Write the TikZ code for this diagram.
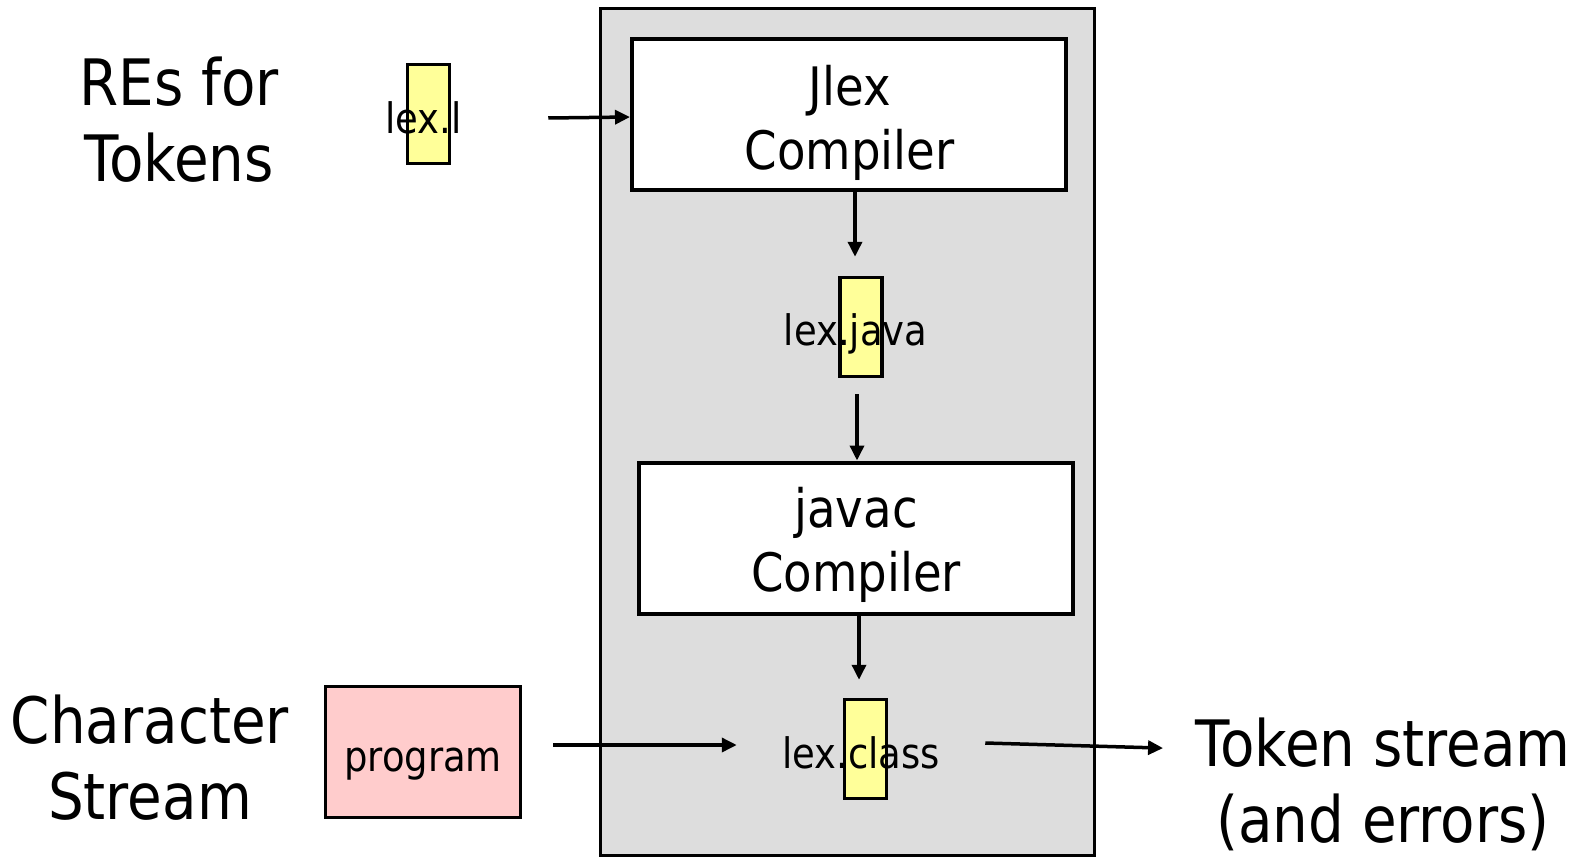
\documentclass[tikz,border=0pt]{standalone}
\usepackage{fontspec}
\setmainfont{DejaVu Sans}[FakeStretch=0.88]
\usetikzlibrary{arrows.meta}
\definecolor{panelgray}{HTML}{DDDDDD}
\definecolor{fileyellow}{HTML}{FFFF99}
\definecolor{progpink}{HTML}{FFCCCC}
\begin{document}
\begin{tikzpicture}[x=1pt,y=-1pt,
  bigtext/.style={font=\fontsize{64}{76}\selectfont, align=center, inner sep=0pt, anchor=base},
  boxtext/.style={font=\fontsize{53}{64}\selectfont, align=center, inner sep=0pt, anchor=base},
  filetext/.style={font=\fontsize{42}{50}\selectfont, inner sep=0pt, anchor=base},
  procbox/.style={draw, line width=4pt, fill=white, minimum width=434pt, minimum height=151pt, inner sep=0pt},
  filebox/.style={draw, line width=3.5pt, fill=fileyellow, minimum width=42pt, minimum height=99pt, inner sep=0pt},
  arr/.style={line width=3.5pt, -{Triangle[length=15pt,width=14pt]}}]
\useasboundingbox (0,0) rectangle (1586,856);
% panel
\node[draw, line width=3pt, fill=panelgray, minimum width=494pt, minimum height=847pt, inner sep=0pt] (panel) at (847.5,432) {};
% process boxes
\node[procbox] (jlex) at (849,114.5) {};
\node[boxtext] (jlexlabel) at (849.5,169) {Jlex\\Compiler};
\node[procbox] (javac) at (855.5,538) {};
\node[boxtext] (javaclabel) at (856,591) {javac\\Compiler};
% file boxes
\node[filebox] (lexlbox) at (428.5,114) {};
\node[filetext] (lexl) at (423.5,133) {lex.l};
\node[filebox] (lexjavabox) at (861,327) {};
\node[filetext] (lexjava) at (855.5,345) {lex.java};
\node[filebox] (lexclassbox) at (865.5,749) {};
\node[filetext] (lexclass) at (861,768) {lex.class};
% program
\node[draw, line width=3.5pt, fill=progpink, minimum width=195pt, minimum height=131pt, inner sep=0pt, text height=42pt, text depth=4pt, font=\fontsize{42}{50}\selectfont] (program) at (423,752) {program};
% outer texts
\node[bigtext] (res) at (179,181) {REs for\\Tokens};
\node[bigtext] (chars) at (150,819) {Character\\Stream};
\node[bigtext] (output) at (1383,842) {Token stream\\(and errors)};
% arrows
\draw[arr] ([xshift=97pt,yshift=-4pt]lexlbox.east) -- ([yshift=-2.5pt]jlex.west);
\draw[arr] ([xshift=6pt]jlex.south) -- ([xshift=-6pt,yshift=19pt]lexjavabox.north);
\draw[arr] ([xshift=-4pt,yshift=-16pt]lexjavabox.south) -- ([xshift=1.5pt]javac.north);
\draw[arr] ([xshift=3.5pt]javac.south) -- ([xshift=-6.5pt,yshift=18pt]lexclassbox.north);
\draw[arr] ([xshift=31pt,yshift=7pt]program.east) -- ([xshift=-106pt,yshift=4pt]lexclassbox.west);
\draw[arr, shorten >=32pt] ([xshift=97pt,yshift=6pt]lexclassbox.east) -- (output.west |- lexclassbox.center);
\end{tikzpicture}
\end{document}
